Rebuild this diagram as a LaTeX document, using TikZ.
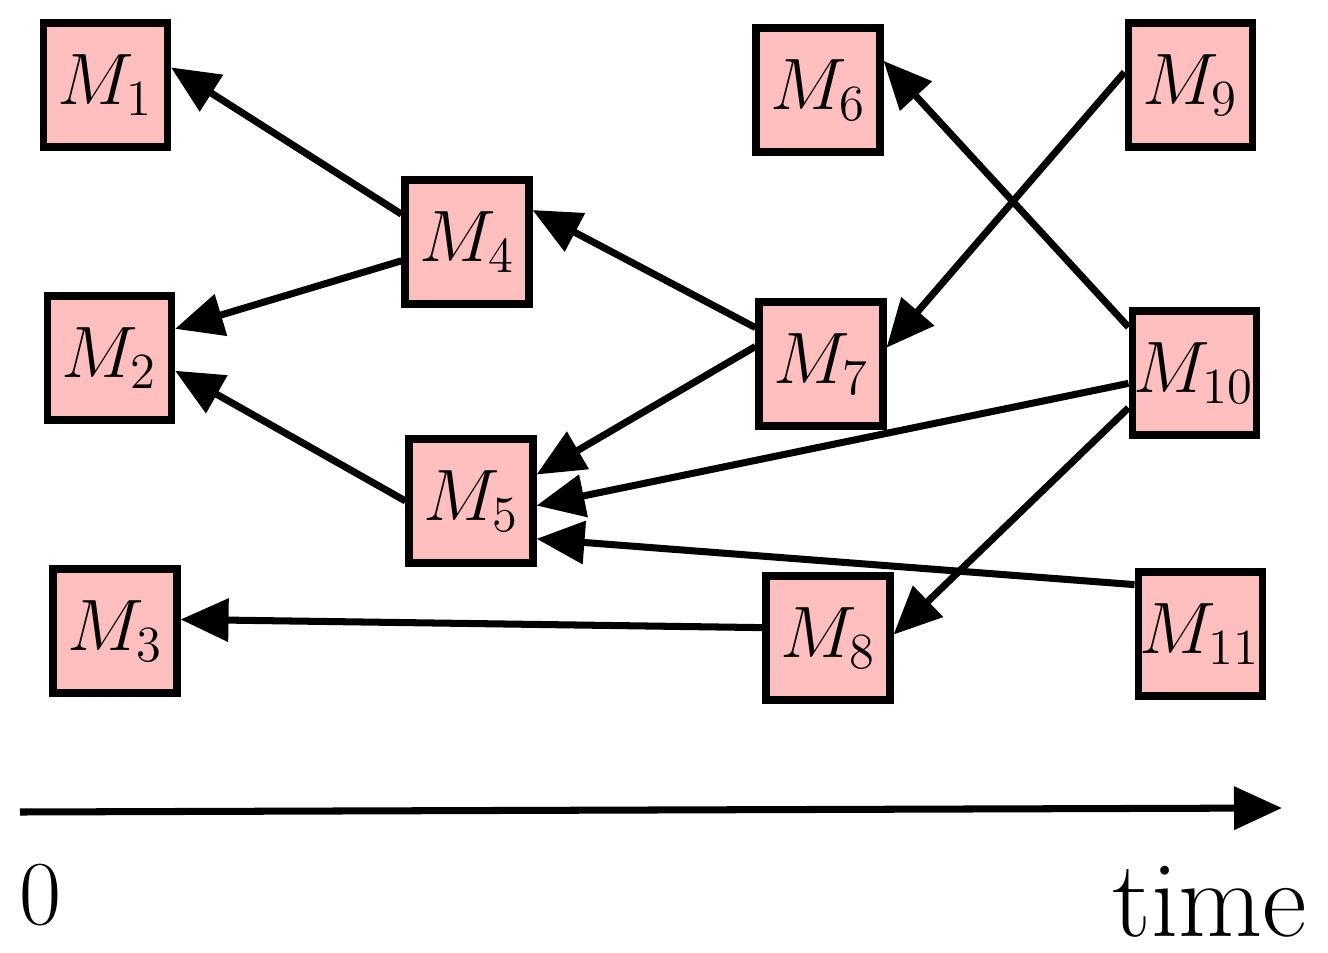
\documentclass[tikz,border=0pt]{standalone}
\usetikzlibrary{arrows.meta}
\begin{document}
\begin{tikzpicture}[
	msg/.style={draw,line width=2pt,fill=pink,minimum size=1.24cm,inner sep=0pt,font=\fontsize{20}{24}\selectfont},
	dep/.style={line width=2pt,-{Triangle[length=0.48cm,width=0.42cm]}}]
	\useasboundingbox (0,0) rectangle (13.28,9.52);
	\node[msg] (m1) at (1.055,8.67) {$M_1$};
	\node[msg] (m2) at (1.095,5.94) {$M_2$};
	\node[msg] (m3) at (1.15,3.21) {$M_3$};
	\node[msg] (m4) at (4.67,7.10) {$M_4$};
	\node[msg] (m5) at (4.71,4.51) {$M_5$};
	\node[msg] (m6) at (8.18,8.62) {$M_6$};
	\node[msg] (m7) at (8.21,5.88) {$M_7$};
	\node[msg] (m8) at (8.28,3.14) {$M_8$};
	\node[msg] (m9) at (11.90,8.67) {$M_9$};
	\node[msg] (m10) at (11.94,5.79) {$M_{10}$};
	\node[msg] (m11) at (12.00,3.18) {$M_{11}$};
	\draw[dep] (m4.157) -- (m1.15);
	\draw[dep] (m4.196) -- (m2.24);
	\draw[dep] (m5.180) -- (m2.349);
	\draw[dep] (m7.151) -- (m4.26);
	\draw[dep] (m7.165) -- (m5.22);
	\draw[dep] (m9.169) -- (m7.14);
	\draw[dep] (m10.145) -- (m6.24);
	\draw[dep] (m10.189) -- (m5.356);
	\draw[dep] (m10.208) -- (m8.3);
	\draw[dep] (m11.143) -- (m5.330);
	\draw[dep] (m8.171) -- (m3.10);
	% time axis
	\coordinate (t0) at (0.2,1.40);
	\coordinate (t1) at (12.82,1.44);
	\draw[dep] (t0) -- (t1);
	\node[font=\fontsize{26}{30}\selectfont] (zero) at (0.40,0.57) {0};
	\node[font=\fontsize{31}{36}\selectfont] (time) at (12.10,0.50) {time};
\end{tikzpicture}
\end{document}
